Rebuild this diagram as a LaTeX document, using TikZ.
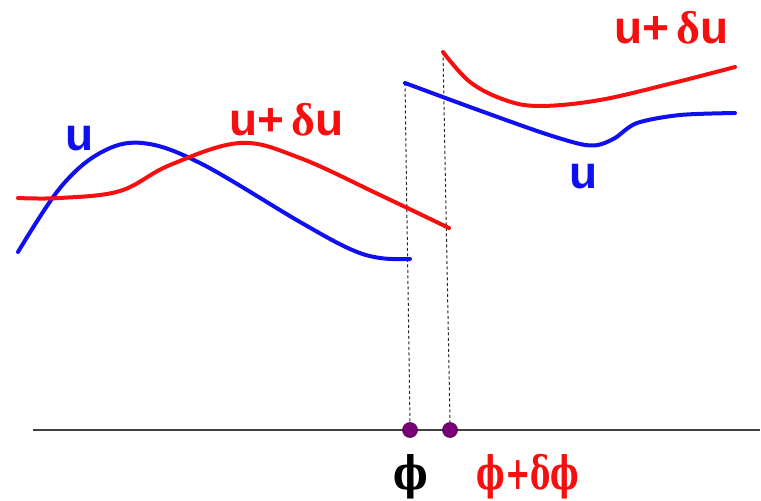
\documentclass[tikz,border=0pt]{standalone}
\usepackage{fontspec}
\setmainfont{Liberation Sans}
\newfontfamily\grk{Liberation Serif}
\newfontfamily\phif{DejaVu Serif}
\definecolor{ublue}{RGB}{15,15,240}
\definecolor{ured}{RGB}{245,15,15}
\definecolor{dotc}{RGB}{120,0,120}
\tikzset{
  curve/.style={line width=4pt, line cap=round, line join=round},
  drop/.style={dash pattern=on 3pt off 2.5pt, line width=1pt, black!85},
  lbl/.style={inner sep=0pt, anchor=base west, font=\fontsize{46}{46}\bfseries},
  plbl/.style={inner sep=0pt, anchor=base, font=\fontsize{46}{46}\bfseries\phif},
  dot/.style={circle, fill=dotc, draw=dotc!70!black, line width=0.6pt, minimum size=15pt, inner sep=0pt}
}
\begin{document}
\begin{tikzpicture}[x=1pt,y=-1pt]
\useasboundingbox (0,0) rectangle (761,501);
% axis
\draw[line width=1.1pt, black!75] (33,430) -- (760,430);
% endpoints
\coordinate (b1) at (405,83);
\coordinate (r1) at (443,52);
\node[dot] (p1) at (410,430) {};
\node[dot] (p2) at (450,430) {};
\draw[drop] (b1) -- (p1.north);
\draw[drop] (r1) -- (p2.north);
% left curves
\draw[curve, ublue] plot[smooth, tension=0.6] coordinates {(18,252) (60,188) (100,153) (142,143) (200,163) (300,222) (350,249) (380,258) (410,259)};
\draw[curve, ured] plot[smooth, tension=0.6] coordinates {(18,198) (60,198) (120,191) (170,165) (240,143) (300,158) (380,195) (449,228)};
% right curves
\draw[curve, ublue] plot[smooth, tension=0.5] coordinates {(b1) (470,107) (540,132) (580,144) (598,145) (615,138) (637,123) (680,115) (735,113)};
\draw[curve, ured] plot[smooth, tension=0.6] coordinates {(r1) (470,82) (505,100) (540,106) (600,100) (673,83) (735,67)};
% labels
\node[lbl, text=ublue] (l1) at (65,150) {u};
\node[lbl, text=ured] (l2) at (229,135) {u+\,{\grk δ}u};
\node[lbl, text=ured] (l3) at (614,43) {u+\,{\grk δ}u};
\node[lbl, text=ublue] (l4) at (569,188) {u};
\node[plbl, text=black] (f1) at (411,489) {\scalebox{0.8}[1]{ϕ}};
\node[plbl, text=ured] (f2) at (528,489) {\scalebox{0.66}[1]{ϕ+δϕ}};
\end{tikzpicture}
\end{document}
